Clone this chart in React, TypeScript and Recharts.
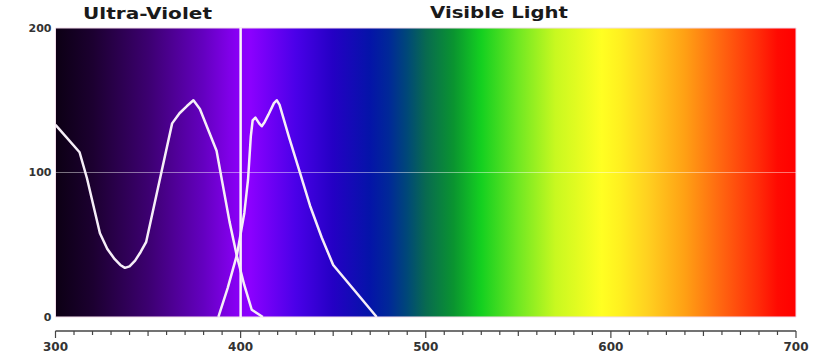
import {
  LineChart,
  Line,
  XAxis,
  YAxis,
  ReferenceArea,
  ReferenceLine
} from "recharts";

// wavelength (nm) and relative value for the two curves
const uvNm = [300, 313, 317, 324, 328, 332, 335, 337.5, 340, 343, 346, 349, 356, 363, 367, 371, 374.5, 378, 387, 390, 394, 398, 402, 406, 412];
const uvValue = [133, 114, 96, 58, 47, 40, 36, 34, 35, 39, 45, 52, 93, 134, 141, 146, 150, 144, 115, 94, 66, 42, 22, 5, 0];

const visNm = [388, 393, 398, 402, 404, 405.5, 406.5, 408, 410, 411.4, 413, 415, 418, 419.5, 421, 426, 432, 437.5, 443.8, 450, 462, 473.5];
const visValue = [0, 20, 43, 72, 95, 125, 136, 138, 134, 132, 135, 140, 148, 150, 147, 125, 100, 77, 55, 36, 17.6, 0];

const majorTicks = [300, 400, 500, 600, 700];
const yTicks = [0, 100, 200];
const xTicks = Array.from({ length: 41 }, (_, i) => 300 + i * 10);

const uvData = uvNm.map((nm, i) => ({ nm, value: uvValue[i] }));
const visData = visNm.map((nm, i) => ({ nm, value: visValue[i] }));

const spectrumStops: Array<[number, string]> = [
  [0, "#0c0014"],
  [0.05, "#1c0030"],
  [0.125, "#3c0070"],
  [0.2, "#6400c0"],
  [0.245, "#8800f4"],
  [0.2625, "#8c00ff"],
  [0.325, "#4a00e8"],
  [0.375, "#2400c4"],
  [0.425, "#0414a8"],
  [0.45, "#002898"],
  [0.475, "#004878"],
  [0.5, "#086a50"],
  [0.5375, "#0a9430"],
  [0.575, "#14d020"],
  [0.625, "#70e822"],
  [0.675, "#c8f820"],
  [0.7375, "#ffff22"],
  [0.7625, "#fff020"],
  [0.8, "#ffd020"],
  [0.85, "#ffa014"],
  [0.9, "#ff6410"],
  [0.95, "#ff2a08"],
  [0.975, "#ff0a02"],
  [1, "#ff0000"]
];

const font = "'DejaVu Sans', sans-serif";

const XTick = (props: any) => {
  const { x, y, payload } = props;
  const v = payload.value;
  const major = majorTicks.includes(v);
  const len = major ? 7 : v % 50 === 0 ? 5 : 4;
  return (
    <g>
      <line x1={x} x2={x} y1={y} y2={y + len} stroke="#444" strokeWidth={1.2} />
      {major && (
        <text
          x={x}
          y={y + 20}
          textAnchor="middle"
          fontFamily={font}
          fontWeight="bold"
          fontSize={12}
          fill="#333"
        >
          {v}
        </text>
      )}
    </g>
  );
};

export default function App() {
  return (
    <div style={{ position: "absolute", left: 0, top: 0, width: 837, height: 361, background: "#fff" }}>
      <LineChart width={837} height={361} margin={{ top: 28, right: 41, bottom: 0, left: 0 }}>
        <defs>
          <linearGradient id="spectrum" x1="0" y1="0" x2="1" y2="0">
            {spectrumStops.map(([o, c]) => (
              <stop key={o} offset={o} stopColor={c} />
            ))}
          </linearGradient>
        </defs>
        <XAxis
          type="number"
          dataKey="nm"
          domain={[300, 700]}
          ticks={xTicks}
          interval={0}
          height={30}
          tickSize={0}
          tickMargin={0}
          tickLine={false}
          axisLine={{ stroke: "#444", strokeWidth: 1.5 }}
          tick={<XTick />}
        />
        <YAxis
          type="number"
          domain={[-9.7, 200]}
          ticks={yTicks}
          width={55.5}
          tickSize={0}
          tickMargin={4}
          tickLine={false}
          axisLine={false}
          allowDataOverflow
          tick={{ fontFamily: font, fontWeight: "bold", fontSize: 11, fill: "#333" }}
        />
        <ReferenceArea
          x1={300}
          x2={700}
          y1={0}
          y2={200}
          fill="url(#spectrum)"
          fillOpacity={1}
          stroke="#f2dcea"
          strokeWidth={1}
        />
        <ReferenceLine y={100} stroke="rgba(255,255,255,0.45)" strokeWidth={1} />
        <ReferenceLine
          segment={[
            { x: 400, y: 0 },
            { x: 400, y: 200 }
          ]}
          stroke="#fbf4fb"
          strokeWidth={2.5}
        />
        <Line
          data={uvData}
          dataKey="value"
          type="linear"
          stroke="#f6eef8"
          strokeWidth={2.5}
          strokeLinejoin="round"
          dot={false}
          isAnimationActive={false}
        />
        <Line
          data={visData}
          dataKey="value"
          type="linear"
          stroke="#f6eef8"
          strokeWidth={2.5}
          strokeLinejoin="round"
          dot={false}
          isAnimationActive={false}
        />
      </LineChart>
      <svg
        width={837}
        height={361}
        style={{ position: "absolute", left: 0, top: 0, pointerEvents: "none" }}
      >
        <text
          x={83}
          y={18.5}
          fontFamily={font}
          fontWeight="bold"
          fontSize={16}
          fill="#1a1a1a"
          textLength={129}
          lengthAdjust="spacingAndGlyphs"
        >
          Ultra-Violet
        </text>
        <text
          x={430}
          y={18}
          fontFamily={font}
          fontWeight="bold"
          fontSize={16}
          fill="#1a1a1a"
          textLength={138}
          lengthAdjust="spacingAndGlyphs"
        >
          Visible Light
        </text>
      </svg>
    </div>
  );
}
